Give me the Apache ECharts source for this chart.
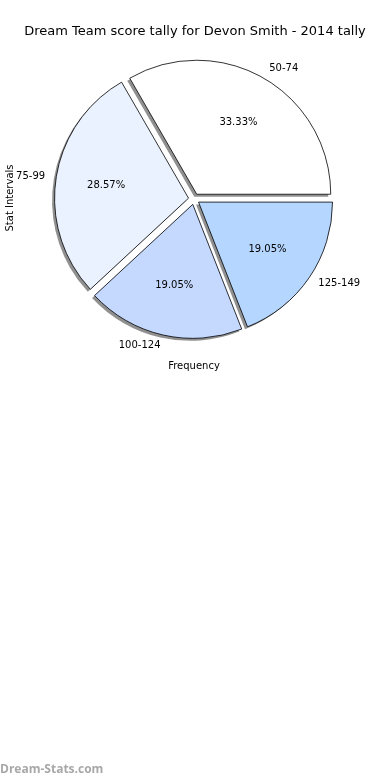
<!DOCTYPE html>
<html>
<head>
<meta charset="utf-8">
<script src="https://cdn.jsdelivr.net/npm/echarts@6/dist/echarts.min.js"></script>
<style>html,body{margin:0;padding:0;background:#fff}#c{width:390px;height:780px}</style>
</head>
<body>
<div id="c"></div>
<script>
const categories = ['50-74', '75-99', '100-124', '125-149'];
const counts = [7, 6, 4, 4];
const titleText = 'Dream Team score tally for Devon Smith - 2014 tally';
const xLabel = 'Frequency';
const yLabel = 'Stat Intervals';
const watermark = 'Dream-Stats.com';

const sliceColors = ['#ffffff', '#eaf2ff', '#c5d9ff', '#b4d6ff'];
const FONT = 'DejaVu Sans';
const CX = 194, CY = 199, R = 134, OFF = 5.5, SH = 2.5;

const chart = echarts.init(document.getElementById('c'), null, {renderer: 'canvas'});

const wedgeData = categories.map((name, i) => ({
  name, value: counts[i], selected: true,
  itemStyle: {color: sliceColors[i]},
  select: {itemStyle: {color: sliceColors[i]}}
}));
const plainData = categories.map((name, i) => ({
  name, value: counts[i], selected: true
}));

const basePie = {
  type: 'pie',
  startAngle: 0,
  clockwise: false,
  selectedMode: 'multiple',
  selectedOffset: OFF,
  avoidLabelOverlap: false,
  silent: true,
  emphasis: {disabled: true}
};

chart.setOption({
  animation: false,
  title: {
    text: titleText, left: 'center', top: 20,
    textStyle: {fontFamily: FONT, fontSize: 13, fontWeight: 'normal', color: '#000'}
  },
  series: [
    Object.assign({}, basePie, {
      z: 1,
      center: [CX - SH, CY + SH],
      radius: [0, R],
      itemStyle: {color: 'rgba(70,70,70,0.6)', borderWidth: 0},
      select: {itemStyle: {color: 'rgba(70,70,70,0.6)', borderWidth: 0}},
      label: {show: false},
      labelLine: {show: false},
      data: plainData
    }),
    Object.assign({}, basePie, {
      z: 2,
      center: [CX, CY],
      radius: [0, R],
      itemStyle: {borderColor: '#000', borderWidth: 0.8},
      label: {
        show: true, position: 'outside',
        fontFamily: FONT, fontSize: 10, color: '#000',
        formatter: '{b}', distanceToLabelLine: 0
      },
      labelLine: {show: false, length: 11, length2: 0},
      data: wedgeData
    }),
    Object.assign({}, basePie, {
      z: 3,
      center: [CX, CY],
      radius: [0.2 * R, R],
      itemStyle: {color: 'rgba(0,0,0,0)', borderWidth: 0},
      select: {itemStyle: {color: 'rgba(0,0,0,0)', borderWidth: 0}},
      label: {
        show: true, position: 'inside',
        fontFamily: FONT, fontSize: 10, color: '#000',
        formatter: '{d}%'
      },
      labelLine: {show: false},
      data: plainData
    })
  ],
  graphic: [
    {
      type: 'text', x: 10, y: 198, rotation: Math.PI / 2,
      style: {text: yLabel, fontFamily: FONT, fontSize: 10, fill: '#000',
        textAlign: 'center', textVerticalAlign: 'middle'}
    },
    {
      type: 'text', x: 194, y: 366,
      style: {text: xLabel, fontFamily: FONT, fontSize: 10, fill: '#000',
        textAlign: 'center', textVerticalAlign: 'middle'}
    },
    {
      type: 'text', x: 0, y: 770,
      style: {text: watermark, fontFamily: 'Open Sans', fontWeight: 'bold', fontSize: 12, fill: '#a8a8a8',
        textAlign: 'left', textVerticalAlign: 'middle'}
    }
  ]
});
</script>
</body>
</html>
